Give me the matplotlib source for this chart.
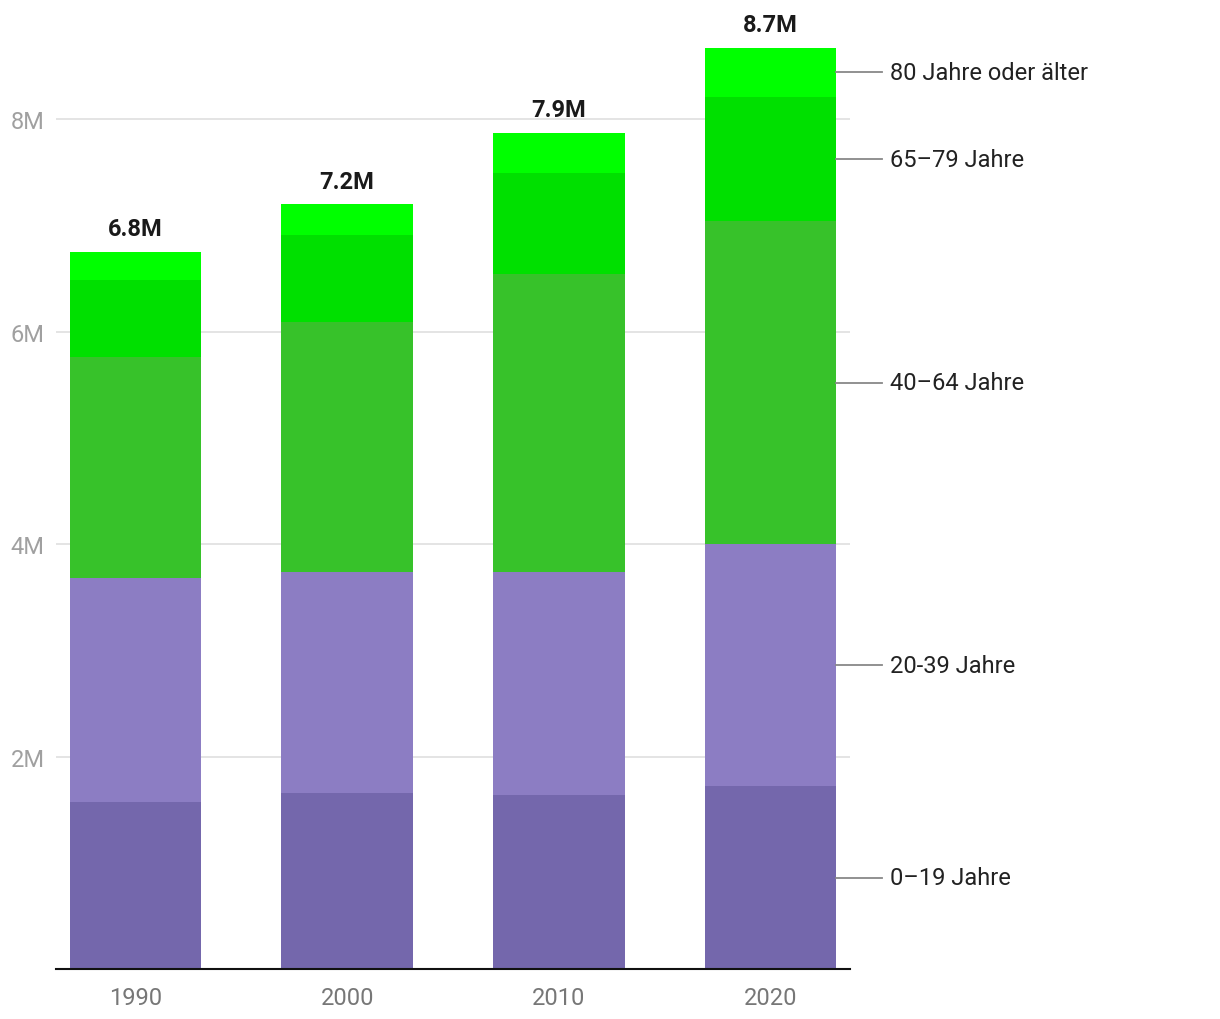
import matplotlib.pyplot as plt
import numpy as np

plt.rcParams['font.family'] = ['Roboto', 'DejaVu Sans']

years = ['1990', '2000', '2010', '2020']
groups = ['0–19 Jahre', '20-39 Jahre', '40–64 Jahre', '65–79 Jahre', '80 Jahre oder älter']
# population in millions per age group
age_0_19 = [1.57, 1.66, 1.64, 1.72]
age_20_39 = [2.11, 2.08, 2.10, 2.28]
age_40_64 = [2.08, 2.35, 2.80, 3.04]
age_65_79 = [0.73, 0.82, 0.95, 1.17]
age_80_plus = [0.26, 0.29, 0.38, 0.46]
totals = ['6.8M', '7.2M', '7.9M', '8.7M']

colors = ['#7467ac', '#8c7dc3', '#37c22a', '#00e000', '#00ff00']
series = [age_0_19, age_20_39, age_40_64, age_65_79, age_80_plus]

fig = plt.figure(figsize=(12.2, 10.2), dpi=100)
ax = fig.add_axes([56 / 1220, 50 / 1020, 794 / 1220, 956 / 1020])

x = np.arange(len(years))
w = 0.62
bottom = np.zeros(len(years))
for vals, col in zip(series, colors):
    ax.bar(x, vals, w, bottom=bottom, color=col, zorder=2)
    bottom += np.array(vals)

# total labels above bars
for xi, top, lab in zip(x, bottom, totals):
    ax.text(xi, top + 0.11, lab, ha='center', va='bottom', fontsize=17,
            fontweight='bold', color='#1a1a1a')

# labels to the right of the last bar
b = 0
last = len(years) - 1
for vals, name in zip(series, groups):
    mid = b + vals[last] / 2
    b += vals[last]
    x0 = last + w / 2
    ax.plot([x0, x0 + 46 / 211.7], [mid, mid], color='#888888', lw=1.3,
            clip_on=False, zorder=3)
    ax.text(x0 + 54 / 211.7, mid, name, ha='left', va='center', fontsize=17,
            color='#222222', clip_on=False)

ax.set_xlim(-0.375, 3.375)
ax.set_ylim(0, 9)
ax.set_yticks([2, 4, 6, 8])
ax.set_yticklabels(['2M', '4M', '6M', '8M'])
ax.set_xticks(x)
ax.set_xticklabels(years)
ax.tick_params(axis='y', length=0, pad=8, labelsize=17, labelcolor='#a0a0a0')
ax.tick_params(axis='x', length=0, pad=12, labelsize=17, labelcolor='#777777')
ax.grid(axis='y', color='#e2e2e2', lw=1.3, zorder=0)
for s in ['top', 'right', 'left']:
    ax.spines[s].set_visible(False)
ax.spines['bottom'].set_color('#111111')
ax.spines['bottom'].set_linewidth(1.5)
ax.spines['bottom'].set_zorder(4)

plt.savefig('out.png', dpi=100)
